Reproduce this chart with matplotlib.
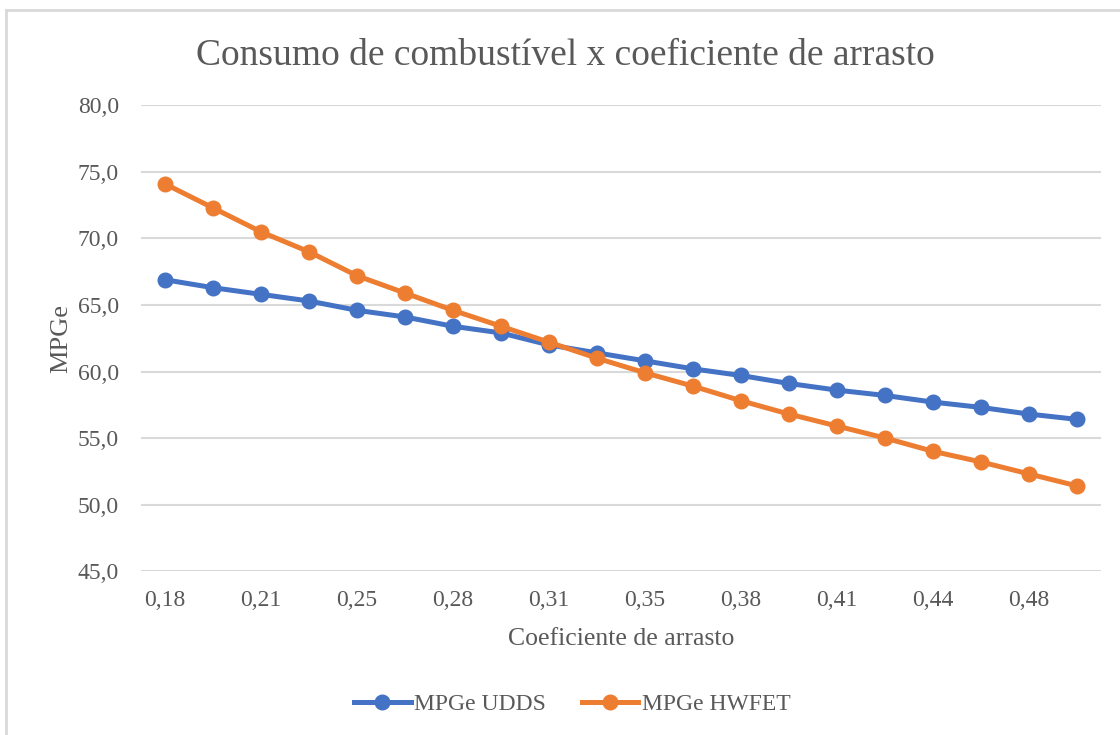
import matplotlib.pyplot as plt
from matplotlib.lines import Line2D

# Drag coefficient categories (every other one labelled, as in the source chart)
coef = [0.180, 0.197, 0.213, 0.230, 0.246, 0.263, 0.279, 0.296, 0.312, 0.329,
        0.346, 0.362, 0.378, 0.395, 0.411, 0.428, 0.444, 0.461, 0.477, 0.494]

mpge_udds = [66.9, 66.3, 65.8, 65.3, 64.6, 64.1, 63.4, 62.9, 62.0, 61.4,
             60.8, 60.2, 59.7, 59.1, 58.6, 58.2, 57.7, 57.3, 56.8, 56.4]
mpge_hwfet = [74.1, 72.3, 70.5, 69.0, 67.2, 65.9, 64.6, 63.4, 62.2, 61.0,
              59.9, 58.9, 57.8, 56.8, 55.9, 55.0, 54.0, 53.2, 52.3, 51.4]

y_ticks = [45, 50, 55, 60, 65, 70, 75, 80]

TEXT = '#595959'
BLUE = '#4472C4'
ORANGE = '#ED7D31'
GRID = '#D9D9D9'

plt.rcParams['font.family'] = ['Liberation Serif', 'DejaVu Serif']

fig = plt.figure(figsize=(11.2, 7.35), dpi=100)
ax = fig.add_axes([0.1259, 0.2231, 0.983 - 0.1259, 0.8565 - 0.2231])

x = list(range(len(coef)))
ax.plot(x, mpge_udds, '-o', color=BLUE, linewidth=3.6, markersize=10.5, zorder=3,
        solid_capstyle='round')
ax.plot(x, mpge_hwfet, '-o', color=ORANGE, linewidth=3.6, markersize=10.5, zorder=4,
        solid_capstyle='round')

ax.set_xlim(-0.5, len(coef) - 0.5)
ax.set_ylim(45, 80)
ax.set_yticks(y_ticks)
ax.set_yticklabels([f'{v:.1f}'.replace('.', ',') for v in y_ticks])
ax.set_xticks(x[::2])
ax.set_xticklabels([f'{c:.2f}'.replace('.', ',') for c in coef[::2]])

ax.grid(axis='y', color=GRID, linewidth=1.5)
ax.set_axisbelow(True)
for s in ax.spines.values():
    s.set_visible(False)
ax.tick_params(length=0, labelsize=17, colors=TEXT)
ax.tick_params(axis='x', pad=14)
ax.tick_params(axis='y', pad=16)

ax.set_xlabel('Coeficiente de arrasto', fontsize=18.5, color=TEXT, labelpad=12)
ax.set_ylabel('MPGe', fontsize=19, color=TEXT, labelpad=4)
fig.text(0.505, 0.924, 'Consumo de combustível x coeficiente de arrasto',
         ha='center', va='center', fontsize=27, color=TEXT)

handles = [Line2D([], [], color=BLUE, marker='o', linewidth=3.6, markersize=10.5),
           Line2D([], [], color=ORANGE, marker='o', linewidth=3.6, markersize=10.5)]
fig.legend(handles, ['MPGe UDDS', 'MPGe HWFET'], loc='center', ncol=2,
           bbox_to_anchor=(0.511, 0.042), frameon=False, fontsize=17,
           handlelength=2.4, handletextpad=0.15, columnspacing=1.5, labelcolor=TEXT)

# chart area border (top and left edges visible in the source)
fig.add_artist(Line2D([0.005, 1.0], [1 - 10 / 735, 1 - 10 / 735], color=GRID,
                      linewidth=2, transform=fig.transFigure))
fig.add_artist(Line2D([6 / 1120, 6 / 1120], [0, 1 - 10 / 735], color=GRID,
                      linewidth=2, transform=fig.transFigure))

fig.savefig('out.png', dpi=100, facecolor='white')
